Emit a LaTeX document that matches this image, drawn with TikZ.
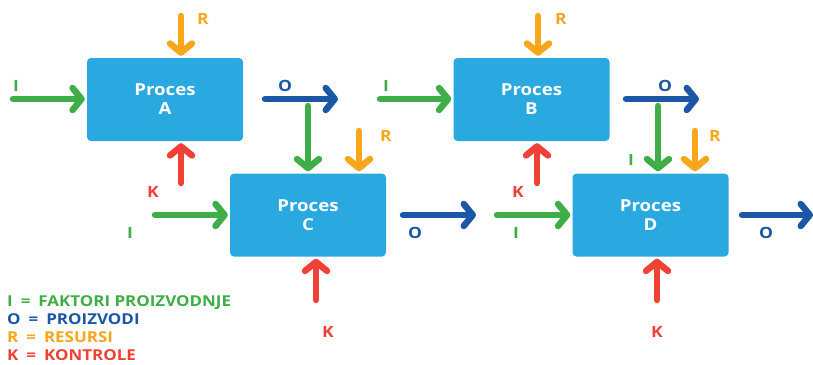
\documentclass[tikz,border=0pt]{standalone}
\usepackage{fontspec}
\setmainfont{Open Sans}[BoldFont={Open Sans Bold}, FakeStretch=1.13]
\usetikzlibrary{arrows.meta}
\definecolor{cgreen}{HTML}{3FAE49}
\definecolor{cblue}{HTML}{1C57A5}
\definecolor{corange}{HTML}{F9A61A}
\definecolor{cred}{HTML}{EF4136}
\definecolor{cbox}{HTML}{29A9E0}
\newcommand{\eqgap}{\hspace{8pt}=\hspace{8pt}}
\tikzset{
  box/.style={fill=cbox, rounded corners=4pt, minimum width=156pt, minimum height=83pt, inner sep=0pt,
    text=white, font=\bfseries\fontsize{16.5}{19}\selectfont, align=center},
  arr/.style={line width=6.5pt, line cap=round, -{Straight Barb[length=9pt, width=22pt, round]}, shorten >=2pt},
  iarr/.style={arr, draw=cgreen},
  oarr/.style={arr, draw=cblue},
  rarr/.style={arr, draw=corange},
  karr/.style={arr, draw=cred},
  lab/.style={font=\bfseries\fontsize{15.5}{17}\selectfont, inner sep=0pt},
  leg/.style={font=\bfseries\fontsize{15}{17}\selectfont, inner sep=0pt, anchor=base west, text depth=0pt},
}
\begin{document}
\begin{tikzpicture}[x=1pt, y=-1pt]
\useasboundingbox (0,0) rectangle (813,364);
% boxes
\node[box] (A) at (165,99.5) {Proces\\A};
\node[box] (C) at (308,215) {Proces\\C};
\node[box] (B) at (531.5,99.5) {Proces\\B};
\node[box] (D) at (650.5,215) {Proces\\D};
% free ends
\coordinate (iA) at (13,99);
\coordinate (rA) at (181,16);
\coordinate (kA) at (181,183);
\coordinate (oAs) at (265,99);
\coordinate (oAe) at (340,99);
\coordinate (gA) at (308,106);
\coordinate (rC) at (359,131);
\coordinate (iC) at (155,215);
\coordinate (kC) at (316,300);
\coordinate (oCs) at (403,215);
\coordinate (oCe) at (478,215);
\coordinate (iB) at (380,99);
\coordinate (rB) at (538,16);
\coordinate (kB) at (537,183);
\coordinate (oBs) at (626,99);
\coordinate (oBe) at (701,99);
\coordinate (gB) at (658,106);
\coordinate (rD) at (695,131);
\coordinate (iD) at (497,215);
\coordinate (kD) at (657,300);
\coordinate (oDs) at (742,215);
\coordinate (oDe) at (815,215);
% A
\draw[iarr] (iA) -- (iA -| A.west);
\draw[rarr] (rA) -- (rA |- A.north);
\draw[karr] (kA) -- (kA |- A.south);
\draw[oarr] (oAs) -- (oAe);
% C
\draw[iarr] (gA) -- (gA |- C.north);
\draw[rarr] (rC) -- (rC |- C.north);
\draw[iarr] (iC) -- (iC -| C.west);
\draw[karr] (kC) -- (kC |- C.south);
\draw[oarr] (oCs) -- (oCe);
% B
\draw[iarr] (iB) -- (iB -| B.west);
\draw[rarr] (rB) -- (rB |- B.north);
\draw[karr] (kB) -- (kB |- B.south);
\draw[oarr] (oBs) -- (oBe);
% D
\draw[iarr] (gB) -- (gB |- D.north);
\draw[rarr] (rD) -- (rD |- D.north);
\draw[iarr] (iD) -- (iD -| D.west);
\draw[karr] (kD) -- (kD |- D.south);
\draw[oarr] (oDs) -- (oDe);
% labels
\node[lab, text=cgreen] (lIA) at (16,86) {I};
\node[lab, text=corange] (lRA) at (203,19) {R};
\node[lab, text=cblue] (lOA) at (285,86) {O};
\node[lab, text=corange] (lRC) at (386,136) {R};
\node[lab, text=cred] (lKA) at (153,192) {K};
\node[lab, text=cgreen] (lIC) at (130,233) {I};
\node[lab, text=cred] (lKC) at (328,332) {K};
\node[lab, text=cblue] (lOC) at (415,233) {O};
\node[lab, text=cgreen] (lIB) at (386,86) {I};
\node[lab, text=corange] (lRB) at (561,19) {R};
\node[lab, text=cblue] (lOB) at (665,86) {O};
\node[lab, text=cgreen] (lIg) at (631,160) {I};
\node[lab, text=corange] (lRD) at (715,136) {R};
\node[lab, text=cred] (lKB) at (518,192) {K};
\node[lab, text=cgreen] (lID) at (516,233) {I};
\node[lab, text=cblue] (lOD) at (766,233) {O};
\node[lab, text=cred] (lKD) at (657,332) {K};
% legend
\node[leg, text=cgreen] (g1) at (7,306) {I\eqgap FAKTORI PROIZVODNJE};
\node[leg, text=cblue] (g2) at (7,324) {O\eqgap PROIZVODI};
\node[leg, text=corange] (g3) at (7,342) {R\eqgap RESURSI};
\node[leg, text=cred] (g4) at (7,360) {K\eqgap KONTROLE};
\end{tikzpicture}
\end{document}
